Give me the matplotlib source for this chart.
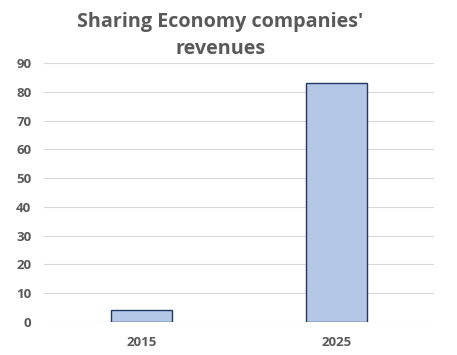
import matplotlib
matplotlib.use('Agg')
import matplotlib.pyplot as plt

# data
years = ['2015', '2025']
revenues = [4, 83]
y_ticks = list(range(0, 100, 10))
title_lines = ["Sharing Economy companies'", "revenues"]

plt.rcParams['font.family'] = ['Open Sans', 'DejaVu Sans']

fig = plt.figure(figsize=(4.57, 3.55), dpi=100)
ax = fig.add_axes([0.096, 0.093, 0.854, 0.7295])

x = range(len(years))
ax.bar(x, revenues, width=0.31, color='#B4C7E7', edgecolor='#1F3864', linewidth=1.0, zorder=3)

ax.set_xlim(-0.5, 1.5)
ax.set_ylim(0, 90)
ax.set_yticks(y_ticks)
ax.set_xticks(list(x))
ax.set_xticklabels(years)
ax.grid(axis='y', color='#D9D9D9', linewidth=0.8, zorder=0)
for s in ax.spines.values():
    s.set_visible(False)
ax.tick_params(length=0, labelsize=9.5, colors='#595959')
ax.tick_params(axis='x', pad=10)
ax.tick_params(axis='y', pad=9)
for lbl in ax.get_xticklabels() + ax.get_yticklabels():
    lbl.set_fontweight('bold')

# two title lines placed separately
fig.text(0.482, 0.938, title_lines[0], ha='center', va='center',
         fontsize=14.2, fontweight='bold', color='#595959')
fig.text(0.482, 0.862, title_lines[1], ha='center', va='center',
         fontsize=14.2, fontweight='bold', color='#595959')

fig.savefig('out.png', dpi=100)
